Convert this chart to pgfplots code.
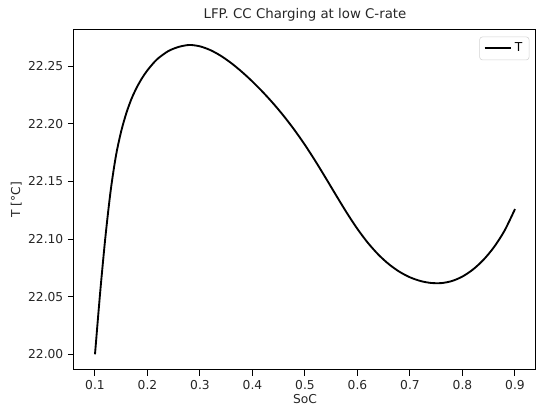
\documentclass[border=0pt]{standalone}
\usepackage{pgfplots}
\pgfplotsset{compat=1.18}
\usepackage{fontspec}
\setmainfont{DejaVu Sans}
\begin{document}
\begin{tikzpicture}
\begin{axis}[
  at={(0,0)}, anchor=south west,
  scale only axis,
  width=346.5pt, height=254.8pt,
  xmin=0.06, xmax=0.94,
  ymin=21.9866, ymax=22.2814,
  xtick={0.1,0.2,...,0.9},
  ytick={22.00,22.05,22.10,22.15,22.20,22.25},
  xticklabel style={/pgf/number format/.cd,fixed,precision=1},
  yticklabel style={/pgf/number format/.cd,fixed,fixed zerofill,precision=2},
  /pgf/number format/assume math mode=true,
  scaled y ticks=false,
  tick align=outside,
  tick pos=left,
  major tick length=4.5pt,
  every tick/.style={black, line width=0.75pt},
  axis line style={line width=0.75pt},
  tick label style={font=\fontsize{9.2}{11}\selectfont, text=black!85},
  label style={font=\fontsize{9.2}{11}\selectfont, text=black!85},
  title style={font=\fontsize{10}{12}\selectfont, text=black!85, yshift=-3pt},
  title={LFP. CC Charging at low C-rate},
  xlabel={SoC},
  ylabel={T [°C]},
  xlabel style={yshift=3pt},
  ylabel style={yshift=-2pt},
  legend style={at={(1,1)}, anchor=north east, xshift=-5pt, yshift=-5pt,
    draw=gray!35, rounded corners=2pt, font=\fontsize{9.2}{11}\selectfont,
    inner xsep=3pt, inner ysep=2.5pt, cells={anchor=west}},
  legend image code/.code={\draw[#1] (0pt,0pt) -- (20pt,0pt);},
  legend cell align=left,
]
\addplot[black, line width=1.4pt, smooth, tension=0.5] coordinates {
(0.10,22.0000)
(0.11,22.0545)
(0.12,22.1025)
(0.13,22.1425)
(0.14,22.1725)
(0.15,22.1937)
(0.16,22.2097)
(0.17,22.2222)
(0.18,22.2319)
(0.19,22.2399)
(0.20,22.2465)
(0.21,22.2520)
(0.22,22.2567)
(0.24,22.2632)
(0.26,22.2668)
(0.28,22.2684)
(0.30,22.2672)
(0.32,22.2639)
(0.34,22.2589)
(0.36,22.2525)
(0.38,22.2450)
(0.40,22.2366)
(0.42,22.2274)
(0.44,22.2174)
(0.46,22.2065)
(0.48,22.1946)
(0.50,22.1816)
(0.52,22.1675)
(0.54,22.1526)
(0.56,22.1374)
(0.58,22.1225)
(0.60,22.1087)
(0.62,22.0966)
(0.64,22.0864)
(0.66,22.0781)
(0.68,22.0716)
(0.70,22.0668)
(0.72,22.0636)
(0.74,22.0619)
(0.76,22.0618)
(0.78,22.0636)
(0.80,22.0675)
(0.82,22.0736)
(0.84,22.0820)
(0.86,22.0930)
(0.88,22.1072)
(0.90,22.1260)
};
\addlegendentry{T}
\end{axis}
\pgfresetboundingbox
\path[use as bounding box] (-55.5pt,-33.2pt) rectangle (357pt,277.3pt);
\end{tikzpicture}
\end{document}
